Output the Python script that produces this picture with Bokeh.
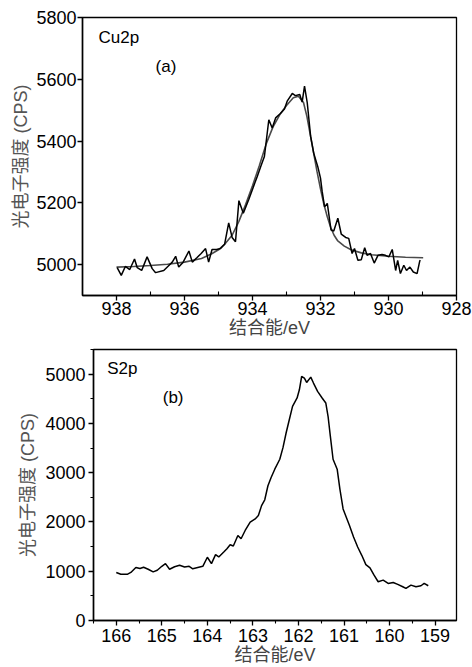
from bokeh.plotting import figure
from bokeh.layouts import column
from bokeh.models import Range1d, FixedTicker, Label
from bokeh.embed import file_html
from bokeh.resources import INLINE

# ---------------- data: panel (a) Cu2p ----------------
cu_raw_e = [937.98, 937.86, 937.74, 937.61, 937.47, 937.39, 937.26, 937.10, 936.95, 936.85,
            936.61, 936.49, 936.36, 936.26, 936.17, 936.04, 935.87, 935.77, 935.63, 935.51,
            935.38, 935.29, 935.19, 935.06, 934.94, 934.82, 934.70, 934.60, 934.50, 934.40,
            934.27, 934.11, 933.98, 933.86, 933.76, 933.65, 933.52, 933.42, 933.32, 933.18,
            933.06, 932.98, 932.83, 932.74, 932.61, 932.54, 932.47, 932.39, 932.29, 932.20,
            932.08, 932.00, 931.95, 931.88, 931.80, 931.69, 931.61, 931.49, 931.39, 931.26,
            931.17, 931.07, 931.00, 930.90, 930.80, 930.70, 930.63, 930.53, 930.42, 930.31,
            930.19, 930.09, 929.99, 929.89, 929.79, 929.73, 929.65, 929.55, 929.47, 929.37,
            929.27, 929.16, 929.08, 929.06]
cu_raw_i = [4990, 4965, 4994, 4984, 5018, 4990, 4981, 5025, 4987, 4974,
            4981, 4994, 5008, 5027, 4992, 5008, 5044, 5008, 5023, 5036,
            5052, 5008, 5049, 5049, 5052, 5066, 5135, 5088, 5074, 5207,
            5166, 5211, 5250, 5285, 5317, 5350, 5469, 5442, 5475, 5489,
            5504, 5529, 5554, 5547, 5551, 5526, 5578, 5524, 5415, 5361,
            5317, 5280, 5236, 5187, 5198, 5112, 5109, 5150, 5099, 5088,
            5085, 5036, 5052, 5014, 5016, 5055, 5030, 5036, 5005, 5030,
            5033, 5030, 5025, 5049, 4981, 5014, 4971, 4998, 4981, 4992,
            4976, 4971, 5012, 5014]

cu_fit_e = [938.0, 937.5, 937.0, 936.5, 936.0, 935.5, 935.2, 935.0, 934.8, 934.6,
            934.4, 934.2, 934.0, 933.8, 933.6, 933.4, 933.2, 933.0, 932.8, 932.65,
            932.5, 932.4, 932.3, 932.2, 932.1, 932.0, 931.9, 931.8, 931.7, 931.6,
            931.5, 931.3, 931.1, 930.8, 930.5, 930.0, 929.5, 928.98]
cu_fit_i = [4992, 4994, 4997, 5001, 5008, 5020, 5035, 5048, 5068, 5095,
            5140, 5195, 5255, 5320, 5390, 5445, 5485, 5515, 5540, 5545,
            5525, 5480, 5420, 5360, 5300, 5245, 5195, 5155, 5120, 5095,
            5078, 5060, 5048, 5038, 5032, 5027, 5024, 5022]

cu_xticks = [938, 936, 934, 932, 930, 928]
cu_xminor = [937, 935, 933, 931, 929]
cu_yticks = [5000, 5200, 5400, 5600, 5800]

# ---------------- data: panel (b) S2p ----------------
s_e = [166.0, 165.9, 165.75, 165.68, 165.57, 165.48, 165.4, 165.3, 165.19, 165.1,
       165.0, 164.92, 164.83, 164.72, 164.61, 164.5, 164.4, 164.32, 164.21, 164.1,
       164.0, 163.91, 163.82, 163.75, 163.64, 163.57, 163.50, 163.43, 163.33, 163.26,
       163.17, 163.06, 162.95, 162.88, 162.81, 162.74, 162.67, 162.60, 162.52, 162.41,
       162.34, 162.27, 162.20, 162.13, 162.03, 161.98, 161.93, 161.87, 161.82, 161.73,
       161.67, 161.58, 161.48, 161.40, 161.35, 161.30, 161.24, 161.15, 161.09, 161.02,
       160.95, 160.88, 160.79, 160.70, 160.61, 160.52, 160.43, 160.34, 160.25, 160.14,
       160.03, 159.92, 159.82, 159.71, 159.64, 159.53, 159.42, 159.31, 159.24, 159.15]
s_i = [974, 940, 940, 975, 1075, 1055, 1080, 1040, 987, 1020,
       1100, 1154, 1041, 1090, 1120, 1085, 1100, 1050, 1075, 1100,
       1283, 1155, 1337, 1290, 1391, 1458, 1538, 1512, 1726, 1659,
       1827, 1996, 2062, 2129, 2331, 2450, 2734, 2903, 3071, 3272,
       3508, 3810, 4079, 4347, 4516, 4683, 4952, 4919, 4831, 4940,
       4819, 4649, 4516, 4415, 4145, 3742, 3272, 3071, 2667, 2264,
       2097, 1927, 1694, 1492, 1323, 1135, 1069, 919, 786, 819,
       752, 772, 732, 685, 651, 718, 685, 705, 752, 705]

s_xticks = [166, 165, 164, 163, 162, 161, 160, 159]
s_xminor = [166.5, 165.5, 164.5, 163.5, 162.5, 161.5, 160.5, 159.5, 158.5]
s_yticks = [0, 1000, 2000, 3000, 4000, 5000]
s_yminor = [500, 1500, 2500, 3500, 4500, 5500]

x_label = "结合能/eV"
y_label = "光电子强度 (CPS)"

LAT = "'Liberation Sans', 'Noto Sans CJK SC'"


def style(p, xt, xm, yt, ym, xin, xstand, ystand, ylab_standoff):
    p.outline_line_color = "black"
    p.outline_line_width = 1.3
    p.grid.visible = False
    p.xaxis.ticker = FixedTicker(ticks=xt, minor_ticks=xm)
    p.yaxis.ticker = FixedTicker(ticks=yt, minor_ticks=ym)
    for ax in (p.xaxis[0], p.yaxis[0]):
        ax.axis_line_width = 1.5
        ax.axis_line_color = "black"
        ax.major_tick_line_width = 1.3
        ax.minor_tick_line_width = 1.1
        ax.major_tick_in = 0
        ax.major_tick_out = 5
        ax.major_label_text_font = LAT
        ax.major_label_text_font_size = "18px"
        ax.major_label_text_color = "black"
        ax.axis_label_text_font = LAT
        ax.axis_label_text_font_size = "18px"
        ax.axis_label_text_font_style = "normal"
    if xin:
        p.xaxis.minor_tick_in = 4
        p.xaxis.minor_tick_out = 0
    else:
        p.xaxis.minor_tick_in = 0
        p.xaxis.minor_tick_out = 3
    p.yaxis.minor_tick_in = 0
    p.yaxis.minor_tick_out = 3
    p.xaxis.major_label_standoff = xstand
    p.yaxis.major_label_standoff = ystand
    p.xaxis.axis_label = x_label
    p.yaxis.axis_label = y_label
    p.xaxis.axis_label_standoff = 0
    p.yaxis.axis_label_standoff = ylab_standoff
    p.xaxis.axis_label_text_color = "#444444"
    p.yaxis.axis_label_text_color = "#555555"


pa = figure(width=472, height=340, output_backend="svg", toolbar_location=None,
            x_range=Range1d(939, 928), y_range=Range1d(4900, 5800),
            min_border_left=82, min_border_right=16, min_border_top=17, min_border_bottom=45)
style(pa, cu_xticks, cu_xminor, cu_yticks, [], True, 1, 1, 2)
pa.line(cu_fit_e, cu_fit_i, line_color="#4a4a4a", line_width=1.6)
pa.line(cu_raw_e, cu_raw_i, line_color="#000000", line_width=1.5)
pa.add_layout(Label(x=938.53, y=5736, text="Cu2p", text_font=LAT, text_font_size="17px",
                    text_baseline="middle", text_color="black"))
pa.add_layout(Label(x=936.85, y=5642, text="(a)", text_font=LAT, text_font_size="17px",
                    text_baseline="middle", text_color="black"))

pb = figure(width=461, height=327, output_backend="svg", toolbar_location=None,
            x_range=Range1d(166.5, 158.53), y_range=Range1d(0, 5500),
            min_border_left=82, min_border_right=11, min_border_top=9, min_border_bottom=45,
            margin=(0, 0, 0, 11))
style(pb, s_xticks, s_xminor, s_yticks, s_yminor, False, 3, 3, 4)
pb.line(s_e, s_i, line_color="#000000", line_width=1.5)
pb.add_layout(Label(x=166.2, y=5107, text="S2p", text_font=LAT, text_font_size="17px",
                    text_baseline="middle", text_color="black"))
pb.add_layout(Label(x=164.98, y=4522, text="(b)", text_font=LAT, text_font_size="17px",
                    text_baseline="middle", text_color="black"))

layout = column(pa, pb, spacing=0)
open("out.html", "w").write(file_html(layout, INLINE))
